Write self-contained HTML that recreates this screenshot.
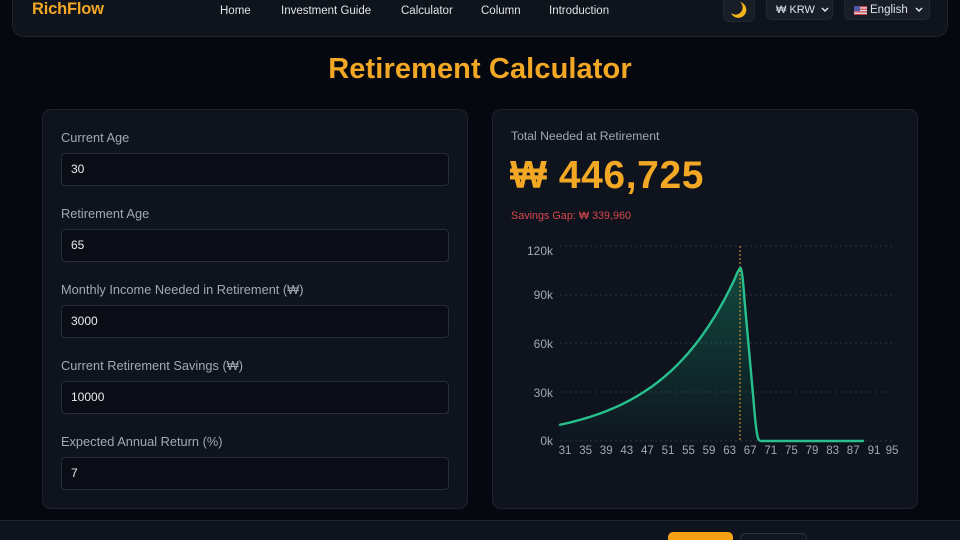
<!DOCTYPE html>
<html style="overflow:hidden;width:960px;height:540px"><head><meta charset="utf-8"><style>
*{margin:0;padding:0;box-sizing:border-box}
body{width:960px;height:540px;overflow:hidden;background:#05080e;font-family:"Liberation Sans","DejaVu Sans",sans-serif;position:relative;color:#e5e7eb}
.abs{position:absolute}
.nav{left:12px;top:-12px;width:936px;height:49px;background:#0e131c;border:1px solid #1e2531;border-radius:12px}
.logo{left:32px;top:0px;font-weight:bold;font-size:16.5px;color:#f2a824;letter-spacing:-0.2px}
.link{top:5px;font-size:11.5px;color:#dfe3ea}
.btn{background:#181d28;border:1px solid #202634;border-radius:6px}
.title{left:0;width:960px;top:53px;text-align:center;font-weight:bold;font-size:29px;color:#f2a824;letter-spacing:0.1px}
.card{background:#0e131d;border:1px solid #1d2430;border-radius:9px}
.lbl{left:61px;font-size:12.8px;color:#a3a9b4}
.inp{left:61px;width:388px;height:33px;background:#0a0d15;border:1px solid #262d3a;border-radius:4px;font-size:12px;color:#e8eaee;padding-left:9px;line-height:31px}
</style></head><body>
<div class="abs nav"></div>
<div class="abs logo">RichFlow</div>
<div class="abs link" style="left:220px">Home</div>
<div class="abs link" style="left:281px">Investment Guide</div>
<div class="abs link" style="left:401px">Calculator</div>
<div class="abs link" style="left:481px">Column</div>
<div class="abs link" style="left:549px">Introduction</div>
<div class="abs btn" style="left:723px;top:-6px;width:32px;height:28px"></div>
<svg class="abs" style="left:729px;top:1px" width="20" height="18" viewBox="0 0 20 18"><path d="M11 1 A8 8 0 1 1 2 12 A7 7 0 0 0 11 1Z" fill="#f4b41a"/></svg>
<div class="abs btn" style="left:766px;top:-6px;width:67px;height:26px"></div>
<div class="abs" style="left:776px;top:4px;font-size:11px;color:#dfe3ea">₩ KRW</div>
<svg class="abs" style="left:821px;top:7px" width="8" height="6"><path d="M1 1 L4 4 L7 1" stroke="#dfe3ea" stroke-width="1.5" fill="none"/></svg>
<div class="abs btn" style="left:844px;top:-6px;width:86px;height:26px"></div>
<svg class="abs" style="left:854px;top:6px" width="13" height="9"><rect width="13" height="9" fill="#e6e6ea"/><rect y="0" width="13" height="1.3" fill="#c8404a"/><rect y="2.6" width="13" height="1.3" fill="#c8404a"/><rect y="5.2" width="13" height="1.3" fill="#c8404a"/><rect y="7.8" width="13" height="1.2" fill="#c8404a"/><rect width="6" height="5" fill="#4a5aa8"/></svg>
<div class="abs" style="left:870px;top:4px;font-size:11.5px;color:#dfe3ea">English</div>
<svg class="abs" style="left:915px;top:7px" width="8" height="6"><path d="M1 1 L4 4 L7 1" stroke="#dfe3ea" stroke-width="1.5" fill="none"/></svg>

<div class="abs title">Retirement Calculator</div>

<div class="abs card" style="left:42px;top:109px;width:426px;height:400px"></div>
<div class="abs lbl" style="top:130px">Current Age</div>
<div class="abs inp" style="top:153px">30</div>
<div class="abs lbl" style="top:206px">Retirement Age</div>
<div class="abs inp" style="top:229px">65</div>
<div class="abs lbl" style="top:282px">Monthly Income Needed in Retirement (₩)</div>
<div class="abs inp" style="top:305px">3000</div>
<div class="abs lbl" style="top:358px">Current Retirement Savings (₩)</div>
<div class="abs inp" style="top:381px">10000</div>
<div class="abs lbl" style="top:434px">Expected Annual Return (%)</div>
<div class="abs inp" style="top:457px">7</div>

<div class="abs card" style="left:492px;top:109px;width:426px;height:400px"></div>
<div class="abs" style="left:511px;top:129px;font-size:12.2px;color:#a3a9b4">Total Needed at Retirement</div>
<div class="abs" style="left:510px;top:154px;font-size:39px;font-weight:bold;color:#f2a824;letter-spacing:0.6px">₩ 446,725</div>
<div class="abs" style="left:511px;top:210px;font-size:10.8px;color:#d8474c">Savings Gap: ₩ 339,960</div>

<svg class="abs" style="left:0;top:0" width="960" height="540">
<defs><linearGradient id="g" x1="0" y1="267" x2="0" y2="441" gradientUnits="userSpaceOnUse"><stop offset="0" stop-color="#18b985" stop-opacity="0.32"/><stop offset="1" stop-color="#18b985" stop-opacity="0.02"/></linearGradient></defs>
<g stroke="#2a313e" stroke-width="1" stroke-dasharray="2,3">
<line x1="560" y1="246" x2="895" y2="246"/><line x1="560" y1="295" x2="895" y2="295"/><line x1="560" y1="343" x2="895" y2="343"/><line x1="560" y1="392" x2="895" y2="392"/><line x1="560" y1="441" x2="895" y2="441"/>
</g>
<g font-size="12" fill="#a3a9b4" text-anchor="end" font-family="Liberation Sans, sans-serif">
<text x="553" y="255">120k</text><text x="553" y="299">90k</text><text x="553" y="348">60k</text><text x="553" y="397">30k</text><text x="553" y="445">0k</text>
</g>
<g font-size="11.5" fill="#a3a9b4" text-anchor="middle" font-family="Liberation Sans, sans-serif">
<text x="565" y="454">31</text><text x="585.6" y="454">35</text><text x="606.2" y="454">39</text><text x="626.8" y="454">43</text><text x="647.4" y="454">47</text><text x="668" y="454">51</text><text x="688.5" y="454">55</text><text x="709" y="454">59</text><text x="729.6" y="454">63</text><text x="750.2" y="454">67</text><text x="770.8" y="454">71</text><text x="791.4" y="454">75</text><text x="812" y="454">79</text><text x="832.6" y="454">83</text><text x="853.2" y="454">87</text><text x="874" y="454">91</text><text x="892" y="454">95</text>
</g>
<path d="M560,424.75 L565.14,423.61 L570.28,422.4 L575.42,421.09 L580.56,419.7 L585.7,418.21 L590.84,416.61 L595.98,414.91 L601.12,413.08 L606.26,411.13 L611.4,409.03 L616.54,406.8 L621.68,404.4 L626.82,401.84 L631.96,399.1 L637.1,396.16 L642.24,393.03 L647.38,389.67 L652.52,386.08 L657.66,382.23 L662.8,378.12 L667.94,373.71 L673.08,369.01 L678.22,363.97 L683.36,358.57 L688.5,352.8 L693.64,346.63 L698.78,340.02 L703.92,332.96 L709.06,325.39 L714.2,317.3 L719.34,308.64 L724.48,299.38 L729.62,289.46 L734.76,278.86 L739.9,267.8 L744.5,300 L749,350 L753.5,400 L757.5,435 L760.46,441 L760.46,441 L560,441 Z" fill="url(#g)"/>
<line x1="740" y1="246" x2="740" y2="441" stroke="#e2a02a" stroke-width="1" stroke-dasharray="2,2"/>
<path d="M560,424.75 L565.14,423.61 L570.28,422.4 L575.42,421.09 L580.56,419.7 L585.7,418.21 L590.84,416.61 L595.98,414.91 L601.12,413.08 L606.26,411.13 L611.4,409.03 L616.54,406.8 L621.68,404.4 L626.82,401.84 L631.96,399.1 L637.1,396.16 L642.24,393.03 L647.38,389.67 L652.52,386.08 L657.66,382.23 L662.8,378.12 L667.94,373.71 L673.08,369.01 L678.22,363.97 L683.36,358.57 L688.5,352.8 L693.64,346.63 L698.78,340.02 L703.92,332.96 L709.06,325.39 L714.2,317.3 L719.34,308.64 L724.48,299.38 L729.62,289.46 L734.76,278.86 Q739,268 740.5,267.8 Q742.5,270 744.5,300 L749,350 L753.5,400 Q756,432 758,438 Q759,441 761,441 L863,441" fill="none" stroke="#27c08c" stroke-width="2.4" stroke-linejoin="round" stroke-linecap="round"/>
</svg>

<div class="abs" style="left:0;top:520px;width:960px;height:20px;background:#0e131d;border-top:1px solid #1e2532;overflow:hidden">
<div class="abs" style="left:668px;top:11px;width:65px;height:14px;background:#f4a012;border-radius:5px"></div>
<div class="abs" style="left:740px;top:12px;width:67px;height:14px;background:#111722;border:1px solid #2a3240;border-radius:5px"></div>
</div>
</body></html>
